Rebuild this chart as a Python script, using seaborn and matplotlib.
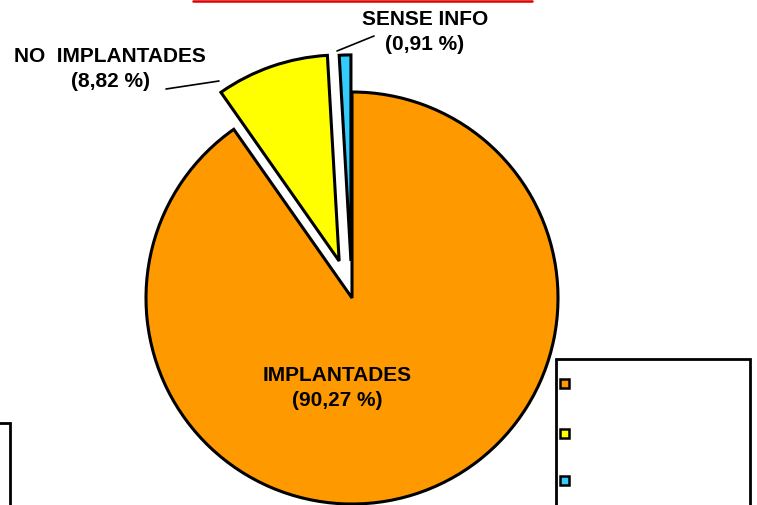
import matplotlib
matplotlib.use("Agg")
import matplotlib.pyplot as plt
from matplotlib.patches import Rectangle
from matplotlib.lines import Line2D
import seaborn as sns

# ---- data ----
categories = ["IMPLANTADES", "NO  IMPLANTADES", "SENSE INFO"]
percent_labels = ["(90,27 %)", "(8,82 %)", "(0,91 %)"]
values = [90.27, 8.82, 0.91]
colors = ["#FF9900", "#FFFF00", "#33CCFF"]
explode = [0.0, 0.19, 0.18]

sns.set_theme(style="white")
plt.rcParams["font.family"] = ["Liberation Sans", "DejaVu Sans"]

W, H = 757, 506
CX, CY, R = 352, 299, 206

fig = plt.figure(figsize=(W / 100, H / 100), dpi=100)
ax = fig.add_axes([0, 0, 1, 1])

def P(px, py):
    return ((px - CX) / R, (CY - py) / R)

wedges, _ = ax.pie(values, colors=colors, explode=explode, startangle=90,
                   counterclock=False, radius=1.0,
                   wedgeprops=dict(edgecolor="black", linewidth=2.2))

ax.set_xlim(-CX / R, (W - CX) / R)
ax.set_ylim(-(H - CY) / R, CY / R)
ax.set_axis_off()

tkw = dict(fontsize=15, fontweight="bold", color="black", ha="center",
           va="center", linespacing=1.45)
ax.text(*P(337, 388), categories[0] + "\n" + percent_labels[0], **tkw)
ax.text(*P(110, 69), categories[1] + "\n" + percent_labels[1], **tkw)
ax.text(*P(425, 32), categories[2] + "\n" + percent_labels[2], **tkw)

# leader lines
for (x0, y0), (x1, y1) in [((166, 90), (219, 82)), ((337, 52), (374, 37))]:
    a, b = P(x0, y0), P(x1, y1)
    ax.plot([a[0], b[0]], [a[1], b[1]], color="black", lw=1.2)

# title underline (title text cut off above)
fig.add_artist(Line2D([193 / W, 532 / W], [1 - 2 / H, 1 - 2 / H],
                      color="#DD0000", lw=1.8))

# legend box (labels not visible in the reference)
fig.add_artist(Rectangle((556 / W, -0.05), (750 - 556) / W, 1 - 360 / H + 0.05,
                         transform=fig.transFigure, facecolor="white",
                         edgecolor="black", lw=2))
for i, c in enumerate(colors):
    yy = [385, 435, 482][i]
    fig.add_artist(Rectangle(((566 - 5) / W, 1 - (yy + 5) / H), 9 / W, 9 / H,
                             transform=fig.transFigure, facecolor=c,
                             edgecolor="none"))
    fig.add_artist(Rectangle(((565 - 5) / W, 1 - (yy + 4) / H), 9 / W, 9 / H,
                             transform=fig.transFigure, facecolor=c,
                             edgecolor="black", lw=1.8))

# partial box on the left
fig.add_artist(Rectangle((-0.05, -0.05), 0.05 + 10 / W, 1 - 424 / H + 0.05,
                         transform=fig.transFigure, facecolor="none",
                         edgecolor="black", lw=2))

fig.savefig("out.png", dpi=100, facecolor="white")
